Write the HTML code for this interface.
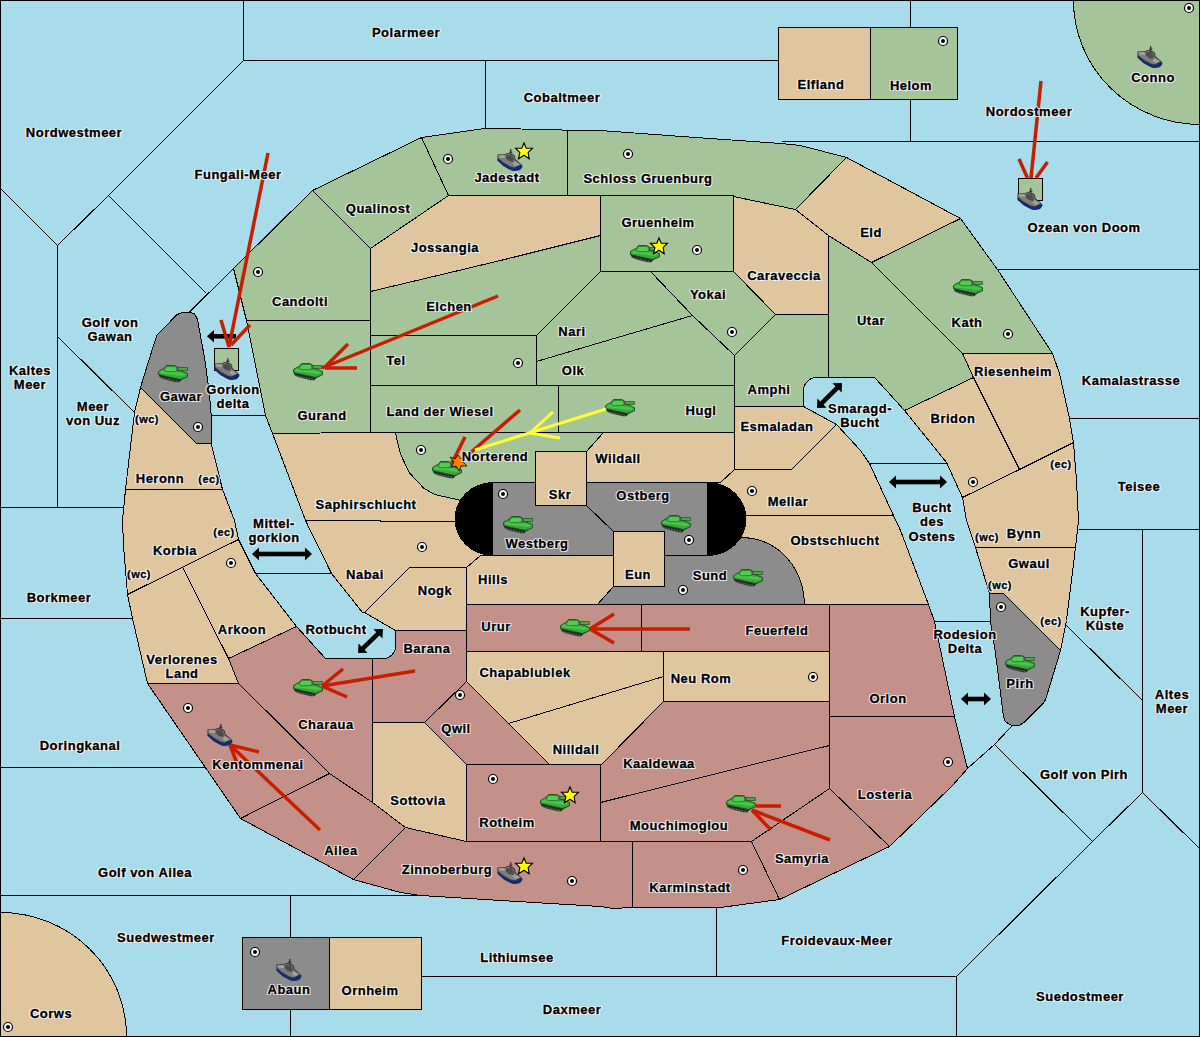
<!DOCTYPE html><html><head><meta charset="utf-8"><style>
html,body{margin:0;padding:0;background:#a8dcea;}
svg{display:block}
text{font-family:"Liberation Sans",sans-serif;font-weight:bold;font-size:13px;letter-spacing:0.5px;text-anchor:middle}
.h text{fill:#fff;stroke:#fff;stroke-width:2.2px;stroke-linejoin:round}
.f text{fill:#000;stroke:#000;stroke-width:0.35px}
text.s{font-size:11px;letter-spacing:0.5px}
</style></head><body>
<svg width="1200" height="1037" viewBox="0 0 1200 1037">
<defs>
<symbol id="ship" viewBox="0 0 25 22" overflow="visible">
<polygon points="0,5.4 7.2,5.2 10.2,4.1 16.3,5.4 17.6,7.6 18,10.2 24.1,15.4 24.8,18 22.4,21.1 16.3,21.9 13.3,21.1 5.9,17.1 0,11.5" fill="#303030"/>
<polygon points="0,10 6,15 13.3,19 17,20 24.8,16 24.8,18 22.4,21.1 16.3,21.9 13.3,21.1 5.9,17.1 0,11.5" fill="#0a2a90"/>
<polygon points="0.8,6.2 7,6 10,5 15.8,6.2 16.8,8.2 17.2,11 23.4,15.6 17,18.6 13,17.6 6,13.6 0.8,9.2" fill="#7c7c7c"/>
<polygon points="1,6.5 6.5,6.3 8,9 2,8.5" fill="#a8a8a8"/>
<polygon points="9,6 15,6.5 16.3,10 15.6,13 11.5,12 8,9" fill="#4c4c4c"/>
<polygon points="17,12 22.5,15.5 18,17 15,15" fill="#a0a0a0"/>
<line x1="13.3" y1="0" x2="13.3" y2="5.5" stroke="#202020" stroke-width="1.1"/>
<line x1="11.5" y1="3.2" x2="15" y2="3.2" stroke="#202020" stroke-width="0.9"/>
</symbol>
<symbol id="tank" viewBox="0 0 29 17" overflow="visible">
<polygon points="0,8.7 1.3,12 5.3,13.7 9.3,14.7 13.3,15.7 17.3,16.7 20.7,16.7 22.7,14.7 26.7,12.3 29,11.3 29,9.5 22,12.5 8,10 0,7.5" fill="#262626"/>
<polygon points="2,12 5,13 9,13.8 13,14.8 17,15.8 20,15.8" fill="none" stroke="#777" stroke-width="0.8" stroke-dasharray="1.2,1.6"/>
<polygon points="0,6 2.7,4.3 6,2.7 7,1 8,0 16,0 18.7,1.2 19,3 19.5,4.5 24.7,6.3 29,8 29,11.3 26.7,12.3 22,14 8,11 0,9" fill="#38a838" stroke="#185018" stroke-width="0.9"/>
<polygon points="1,6.5 6,4 14,6 24,7.5 28,9 24,10.5 12,9 2,8" fill="#4cc44c"/>
<polygon points="6.5,3 8.3,0.8 16,0.8 18.3,2 18.5,5 16.5,6.2 8,6.2 5.5,5" fill="#50cc50" stroke="#1f5f1f" stroke-width="0.7"/>
<rect x="19.5" y="2.2" width="9.3" height="2.6" fill="#44bb44" stroke="#185018" stroke-width="0.8"/>
<rect x="18.3" y="1.8" width="1.6" height="4" fill="#555"/>
</symbol>
<symbol id="star" viewBox="0 0 17 16" overflow="visible">
<polygon points="8.5,0 10.7,5.2 17,5.2 12.6,9.6 13.7,15.7 8.5,12.2 3,15.7 4.4,9.6 0,5.2 6.3,5.2" fill="#ffff00" stroke="#000" stroke-width="1.1" stroke-linejoin="miter"/>
</symbol>
</defs>
<rect x="0" y="0" width="1200" height="1037" fill="#a8dcea"/>
<g transform="translate(0.5,0.5)" shape-rendering="crispEdges">

<path d="M1073,0 A127,124 0 0 0 1200,124 L1200,0 Z" fill="#a5c49a" stroke="#000" stroke-width="1"/>
<path d="M0,912 A126,124 0 0 1 126,1036 L0,1036 Z" fill="#e0c69e" stroke="#000" stroke-width="1"/>
<polygon points="233,268 312,190 370,248 370,320 246,320 241,300" fill="#a5c49a" stroke="#000" stroke-width="1" stroke-linejoin="round"/>
<polygon points="246,320 370,320 370,432 272,433 265,415" fill="#a5c49a" stroke="#000" stroke-width="1" stroke-linejoin="round"/>
<polygon points="312,190 421,137 448,195 370,248" fill="#a5c49a" stroke="#000" stroke-width="1" stroke-linejoin="round"/>
<polygon points="421,137 484,128 556,129 567,130 567,195 448,195" fill="#a5c49a" stroke="#000" stroke-width="1" stroke-linejoin="round"/>
<polygon points="567,130 600,130 695,137 781,143 800,145 846,157 795,209 733,196 567,195" fill="#a5c49a" stroke="#000" stroke-width="1" stroke-linejoin="round"/>
<polygon points="600,195 733,195 733,271 600,271" fill="#a5c49a" stroke="#000" stroke-width="1" stroke-linejoin="round"/>
<polygon points="370,291 500,260 600,235 600,271 536,335 370,335" fill="#a5c49a" stroke="#000" stroke-width="1" stroke-linejoin="round"/>
<polygon points="600,271 650,271 692,315 600,342 536,361 536,335" fill="#a5c49a" stroke="#000" stroke-width="1" stroke-linejoin="round"/>
<polygon points="370,335 536,335 536,385 370,385" fill="#a5c49a" stroke="#000" stroke-width="1" stroke-linejoin="round"/>
<polygon points="536,361 600,342 692,315 734,355 734,385 536,385" fill="#a5c49a" stroke="#000" stroke-width="1" stroke-linejoin="round"/>
<polygon points="650,271 733,271 775,314 734,355 692,315" fill="#a5c49a" stroke="#000" stroke-width="1" stroke-linejoin="round"/>
<polygon points="734,355 775,314 828,314 828,377 816.0,377.0 812.64,377.44 809.5,378.74 806.81,380.81 804.74,383.5 803.44,386.64 803.0,390.0 803,406 734,406" fill="#a5c49a" stroke="#000" stroke-width="1" stroke-linejoin="round"/>
<polygon points="370,385 558,385 558,432 370,432" fill="#a5c49a" stroke="#000" stroke-width="1" stroke-linejoin="round"/>
<polygon points="558,385 734,385 734,432 558,432" fill="#a5c49a" stroke="#000" stroke-width="1" stroke-linejoin="round"/>
<polygon points="395,432 603,432 586,451 535,451 535,482 492,482 492,505 459,499.6 434,494 423.5,488 409,472.5 400,453.7 397.3,443" fill="#a5c49a" stroke="#000" stroke-width="1" stroke-linejoin="round"/>
<polygon points="828,235 871,262 962,353 973,377 904,410 886,390 874,377 828,377" fill="#a5c49a" stroke="#000" stroke-width="1" stroke-linejoin="round"/>
<polygon points="960,218 997,269 1052,353 962,353 871,262" fill="#a5c49a" stroke="#000" stroke-width="1" stroke-linejoin="round"/>
<polygon points="870,27 957,27 957,99 870,99" fill="#a5c49a" stroke="#000" stroke-width="1" stroke-linejoin="round"/>
<polygon points="370,248 448,195 600,195 600,235 500,260 370,291" fill="#e0c69e" stroke="#000" stroke-width="1" stroke-linejoin="round"/>
<polygon points="733,196 795,209 828,235 828,314 775,314 733,271" fill="#e0c69e" stroke="#000" stroke-width="1" stroke-linejoin="round"/>
<polygon points="846,157 960,218 871,262 828,235 795,209" fill="#e0c69e" stroke="#000" stroke-width="1" stroke-linejoin="round"/>
<polygon points="962,353 1052,353 1059,373 1069,418 1073,442 1019,469 973,377" fill="#e0c69e" stroke="#000" stroke-width="1" stroke-linejoin="round"/>
<polygon points="904,410 973,377 1019,469 962,497 946,462" fill="#e0c69e" stroke="#000" stroke-width="1" stroke-linejoin="round"/>
<polygon points="962,497 1019,469 1073,442 1076,480 1078,520 1075,547 975,547 966,520" fill="#e0c69e" stroke="#000" stroke-width="1" stroke-linejoin="round"/>
<polygon points="975,547 1075,547 1066,620 1060,650 1003,593 989,593" fill="#e0c69e" stroke="#000" stroke-width="1" stroke-linejoin="round"/>
<polygon points="603,432 734,432 734,469 720,482 586,482 586,451" fill="#e0c69e" stroke="#000" stroke-width="1" stroke-linejoin="round"/>
<polygon points="535,451 586,451 586,505 535,505" fill="#e0c69e" stroke="#000" stroke-width="1" stroke-linejoin="round"/>
<polygon points="734,406 803,406 836,424 791,469 734,469" fill="#e0c69e" stroke="#000" stroke-width="1" stroke-linejoin="round"/>
<polygon points="734,469 791,469 836,424 860,450 869,463 893,515 745,515 707,515 707,482 720,482" fill="#e0c69e" stroke="#000" stroke-width="1" stroke-linejoin="round"/>
<polygon points="707,515 893,515 900,530 928,604 804.0,604.0 803.24,593.52 800.97,583.3 797.24,573.58 792.16,564.62 785.84,556.62 778.44,549.8 770.15,544.3 761.16,540.28 751.7,537.82 742.0,537.0 707,530" fill="#e0c69e" stroke="#000" stroke-width="1" stroke-linejoin="round"/>
<polygon points="272,433 370,432 395,432 397.3,443 400,453.7 409,472.5 423.5,488 434,494 459,499.6 492,505 492,521 455,521 305,520" fill="#e0c69e" stroke="#000" stroke-width="1" stroke-linejoin="round"/>
<polygon points="305,520 455,521 492,521 492,555 480,555 466,567 409,567 364,612 362,612 331,573" fill="#e0c69e" stroke="#000" stroke-width="1" stroke-linejoin="round"/>
<polygon points="409,567 466,567 466,630 395,630 364,612" fill="#e0c69e" stroke="#000" stroke-width="1" stroke-linejoin="round"/>
<polygon points="466,567 480,555 613,555 613,586 597,604 466,604" fill="#e0c69e" stroke="#000" stroke-width="1" stroke-linejoin="round"/>
<polygon points="613,531 664,531 664,586 613,586" fill="#e0c69e" stroke="#000" stroke-width="1" stroke-linejoin="round"/>
<polygon points="466,651 663,651 663,676 508,723 466,681" fill="#e0c69e" stroke="#000" stroke-width="1" stroke-linejoin="round"/>
<polygon points="508,723 663,676 663,701 600,765 549,764" fill="#e0c69e" stroke="#000" stroke-width="1" stroke-linejoin="round"/>
<polygon points="663,651 829,651 829,701 663,701" fill="#e0c69e" stroke="#000" stroke-width="1" stroke-linejoin="round"/>
<polygon points="372,722 424,722 466,764 466,841 405,827 372,802" fill="#e0c69e" stroke="#000" stroke-width="1" stroke-linejoin="round"/>
<polygon points="778,27 870,27 870,99 778,99" fill="#e0c69e" stroke="#000" stroke-width="1" stroke-linejoin="round"/>
<polygon points="329,937 421,937 421,1009 329,1009" fill="#e0c69e" stroke="#000" stroke-width="1" stroke-linejoin="round"/>
<polygon points="125,489 134,412 140,387 196,443 210.7,443 222,489" fill="#e0c69e" stroke="#000" stroke-width="1" stroke-linejoin="round"/>
<polygon points="122,520 125,489 222,489 234,520 238,539 127,594 123,545" fill="#e0c69e" stroke="#000" stroke-width="1" stroke-linejoin="round"/>
<polygon points="127,594 182,566.7 228,658 238,683 147,683 132,618" fill="#e0c69e" stroke="#000" stroke-width="1" stroke-linejoin="round"/>
<polygon points="182,566.7 238,539 255,573 296,626 228,658" fill="#e0c69e" stroke="#000" stroke-width="1" stroke-linejoin="round"/>
<polygon points="466,604 641,604 641,651 466,651" fill="#c4908a" stroke="#000" stroke-width="1" stroke-linejoin="round"/>
<polygon points="641,604 829,604 829,651 641,651" fill="#c4908a" stroke="#000" stroke-width="1" stroke-linejoin="round"/>
<polygon points="829,604 928,604 934,621 954,716 829,716" fill="#c4908a" stroke="#000" stroke-width="1" stroke-linejoin="round"/>
<polygon points="829,716 954,716 967,768 952,785 889,846 829,788" fill="#c4908a" stroke="#000" stroke-width="1" stroke-linejoin="round"/>
<polygon points="372,658 383.0,658.0 386.11,657.59 389.0,656.39 391.49,654.49 393.39,652.0 394.59,649.11 395.0,646.0 395,630 466,630 466,681 424,722 372,722" fill="#c4908a" stroke="#000" stroke-width="1" stroke-linejoin="round"/>
<polygon points="466,681 549,764 466,764 424,722" fill="#c4908a" stroke="#000" stroke-width="1" stroke-linejoin="round"/>
<polygon points="663,701 829,701 829,745 600,802 600,765" fill="#c4908a" stroke="#000" stroke-width="1" stroke-linejoin="round"/>
<polygon points="600,802 829,745 829,788 751,841 600,841" fill="#c4908a" stroke="#000" stroke-width="1" stroke-linejoin="round"/>
<polygon points="466,764 600,764 600,841 466,841" fill="#c4908a" stroke="#000" stroke-width="1" stroke-linejoin="round"/>
<polygon points="632,841 751,841 779,899 720,907 632,907" fill="#c4908a" stroke="#000" stroke-width="1" stroke-linejoin="round"/>
<polygon points="405,827 466,841 632,841 632,907 612,908 600,906 500,900 420,895 400,892 353,879" fill="#c4908a" stroke="#000" stroke-width="1" stroke-linejoin="round"/>
<polygon points="751,841 829,788 889,846 779,899" fill="#c4908a" stroke="#000" stroke-width="1" stroke-linejoin="round"/>
<polygon points="240,818 329,773 372,802 405,827 353,879" fill="#c4908a" stroke="#000" stroke-width="1" stroke-linejoin="round"/>
<polygon points="228,658 296,626 325,658 372,658 372,802 329,773 238,683" fill="#c4908a" stroke="#000" stroke-width="1" stroke-linejoin="round"/>
<polygon points="147,683 238,683 329,773 240,818" fill="#c4908a" stroke="#000" stroke-width="1" stroke-linejoin="round"/>
<polygon points="613,586 664,586 664,555 707,555 707,530 742.0,537.0 751.7,537.82 761.16,540.28 770.15,544.3 778.44,549.8 785.84,556.62 792.16,564.62 797.24,573.58 800.97,583.3 803.24,593.52 804.0,604.0 597,604" fill="#8c8c8c" stroke="#000" stroke-width="1" stroke-linejoin="round"/>
<ellipse cx="493" cy="518.5" rx="39" ry="37" fill="#000"/>
<ellipse cx="707" cy="518.5" rx="39" ry="37" fill="#000"/>
<polygon points="182,311.7 189,311.7 193.7,313.3 196.3,317.3 197.7,322 199,330 204,357 208,386 210,405 210.7,415 210.7,443 196,443 140,387 148.3,360 156.3,334.7 176.3,314.3" fill="#8c8c8c" stroke="#000" stroke-width="1" stroke-linejoin="round"/>
<polygon points="989,593 1003,593 1060,650 1050.3,682 1045,699.3 1043,702.7 1023.7,722 1017.7,725.3 1011.7,725.3 1005,721.3 1003,716.7 1001,700 995,653 990,621" fill="#8c8c8c" stroke="#000" stroke-width="1" stroke-linejoin="round"/>
<polygon points="492,482 535,482 535,505 586,505 613,531 613,555 492,555" fill="#8c8c8c" stroke="#000" stroke-width="1" stroke-linejoin="round"/>
<polygon points="586,482 707,482 707,555 664,555 664,531 613,531 586,505" fill="#8c8c8c" stroke="#000" stroke-width="1" stroke-linejoin="round"/>
<polygon points="242,937 329,937 329,1009 242,1009" fill="#8c8c8c" stroke="#000" stroke-width="1" stroke-linejoin="round"/>
<polyline points="243,0 243,60 778,60" fill="none" stroke="#000" stroke-width="1"/>
<polyline points="485,60 485,128" fill="none" stroke="#000" stroke-width="1"/>
<polyline points="243,60 108,195 57,245 0,188" fill="none" stroke="#000" stroke-width="1"/>
<polyline points="57,245 57,507" fill="none" stroke="#000" stroke-width="1"/>
<polyline points="108,195 206,293" fill="none" stroke="#000" stroke-width="1"/>
<polyline points="233,268 189,311.5" fill="none" stroke="#000" stroke-width="1"/>
<polyline points="57,336 134,412" fill="none" stroke="#000" stroke-width="1"/>
<polyline points="0,507 122,507" fill="none" stroke="#000" stroke-width="1"/>
<polyline points="0,618 131,618" fill="none" stroke="#000" stroke-width="1"/>
<polyline points="0,767 204,767" fill="none" stroke="#000" stroke-width="1"/>
<polyline points="0,895 420,895" fill="none" stroke="#000" stroke-width="1"/>
<polyline points="290,895 290,937" fill="none" stroke="#000" stroke-width="1"/>
<polyline points="290,1009 290,1036" fill="none" stroke="#000" stroke-width="1"/>
<polyline points="210.7,415 265,415" fill="none" stroke="#000" stroke-width="1"/>
<polyline points="255,573 331,573" fill="none" stroke="#000" stroke-width="1"/>
<polyline points="421,976 956,976" fill="none" stroke="#000" stroke-width="1"/>
<polyline points="716,907 716,976" fill="none" stroke="#000" stroke-width="1"/>
<polyline points="956,976 956,1036" fill="none" stroke="#000" stroke-width="1"/>
<polyline points="956,976 1092,841 994,744" fill="none" stroke="#000" stroke-width="1"/>
<polyline points="1092,841 1142,792 1199,848" fill="none" stroke="#000" stroke-width="1"/>
<polyline points="1142,529 1142,792" fill="none" stroke="#000" stroke-width="1"/>
<polyline points="1066,625 1142,700" fill="none" stroke="#000" stroke-width="1"/>
<polyline points="1078,529 1200,529" fill="none" stroke="#000" stroke-width="1"/>
<polyline points="1069,418 1200,418" fill="none" stroke="#000" stroke-width="1"/>
<polyline points="997,269 1200,269" fill="none" stroke="#000" stroke-width="1"/>
<polyline points="781,141 1200,141" fill="none" stroke="#000" stroke-width="1"/>
<polyline points="910,0 910,27" fill="none" stroke="#000" stroke-width="1"/>
<polyline points="910,99 910,141" fill="none" stroke="#000" stroke-width="1"/>
<polyline points="934,621 990,621" fill="none" stroke="#000" stroke-width="1"/>
<polyline points="869,463 946,463" fill="none" stroke="#000" stroke-width="1"/>
<polyline points="1011.5,725.3 994,744 967,768" fill="none" stroke="#000" stroke-width="1"/>
</g>
<rect x="1018.5" y="178.5" width="24" height="22" fill="#a5c49a" stroke="#000"/>
<rect x="214.5" y="348.5" width="24" height="22" fill="#a5c49a" stroke="#000"/>
<rect x="0.5" y="0.5" width="1199" height="1036" fill="none" stroke="#000" stroke-width="1"/>
<circle cx="448" cy="159" r="4.5" fill="#fff" stroke="#000" stroke-width="1.2"/><circle cx="448" cy="159" r="2" fill="#000"/>
<circle cx="628" cy="154" r="4.5" fill="#fff" stroke="#000" stroke-width="1.2"/><circle cx="628" cy="154" r="2" fill="#000"/>
<circle cx="697" cy="250" r="4.5" fill="#fff" stroke="#000" stroke-width="1.2"/><circle cx="697" cy="250" r="2" fill="#000"/>
<circle cx="943" cy="41" r="4.5" fill="#fff" stroke="#000" stroke-width="1.2"/><circle cx="943" cy="41" r="2" fill="#000"/>
<circle cx="1189" cy="8" r="4.5" fill="#fff" stroke="#000" stroke-width="1.2"/><circle cx="1189" cy="8" r="2" fill="#000"/>
<circle cx="258" cy="272" r="4.5" fill="#fff" stroke="#000" stroke-width="1.2"/><circle cx="258" cy="272" r="2" fill="#000"/>
<circle cx="198" cy="427" r="4.5" fill="#fff" stroke="#000" stroke-width="1.2"/><circle cx="198" cy="427" r="2" fill="#000"/>
<circle cx="518" cy="363" r="4.5" fill="#fff" stroke="#000" stroke-width="1.2"/><circle cx="518" cy="363" r="2" fill="#000"/>
<circle cx="421" cy="450" r="4.5" fill="#fff" stroke="#000" stroke-width="1.2"/><circle cx="421" cy="450" r="2" fill="#000"/>
<circle cx="503" cy="494" r="4.5" fill="#fff" stroke="#000" stroke-width="1.2"/><circle cx="503" cy="494" r="2" fill="#000"/>
<circle cx="732" cy="332" r="4.5" fill="#fff" stroke="#000" stroke-width="1.2"/><circle cx="732" cy="332" r="2" fill="#000"/>
<circle cx="752" cy="491" r="4.5" fill="#fff" stroke="#000" stroke-width="1.2"/><circle cx="752" cy="491" r="2" fill="#000"/>
<circle cx="1008" cy="334" r="4.5" fill="#fff" stroke="#000" stroke-width="1.2"/><circle cx="1008" cy="334" r="2" fill="#000"/>
<circle cx="973" cy="482" r="4.5" fill="#fff" stroke="#000" stroke-width="1.2"/><circle cx="973" cy="482" r="2" fill="#000"/>
<circle cx="231" cy="563" r="4.5" fill="#fff" stroke="#000" stroke-width="1.2"/><circle cx="231" cy="563" r="2" fill="#000"/>
<circle cx="188" cy="708" r="4.5" fill="#fff" stroke="#000" stroke-width="1.2"/><circle cx="188" cy="708" r="2" fill="#000"/>
<circle cx="422" cy="547" r="4.5" fill="#fff" stroke="#000" stroke-width="1.2"/><circle cx="422" cy="547" r="2" fill="#000"/>
<circle cx="460" cy="695" r="4.5" fill="#fff" stroke="#000" stroke-width="1.2"/><circle cx="460" cy="695" r="2" fill="#000"/>
<circle cx="689" cy="540" r="4.5" fill="#fff" stroke="#000" stroke-width="1.2"/><circle cx="689" cy="540" r="2" fill="#000"/>
<circle cx="683" cy="590" r="4.5" fill="#fff" stroke="#000" stroke-width="1.2"/><circle cx="683" cy="590" r="2" fill="#000"/>
<circle cx="813" cy="677" r="4.5" fill="#fff" stroke="#000" stroke-width="1.2"/><circle cx="813" cy="677" r="2" fill="#000"/>
<circle cx="1001" cy="607" r="4.5" fill="#fff" stroke="#000" stroke-width="1.2"/><circle cx="1001" cy="607" r="2" fill="#000"/>
<circle cx="948" cy="762" r="4.5" fill="#fff" stroke="#000" stroke-width="1.2"/><circle cx="948" cy="762" r="2" fill="#000"/>
<circle cx="493" cy="779" r="4.5" fill="#fff" stroke="#000" stroke-width="1.2"/><circle cx="493" cy="779" r="2" fill="#000"/>
<circle cx="572" cy="881" r="4.5" fill="#fff" stroke="#000" stroke-width="1.2"/><circle cx="572" cy="881" r="2" fill="#000"/>
<circle cx="743" cy="870" r="4.5" fill="#fff" stroke="#000" stroke-width="1.2"/><circle cx="743" cy="870" r="2" fill="#000"/>
<circle cx="8" cy="1027" r="4.5" fill="#fff" stroke="#000" stroke-width="1.2"/><circle cx="8" cy="1027" r="2" fill="#000"/>
<circle cx="255" cy="952" r="4.5" fill="#fff" stroke="#000" stroke-width="1.2"/><circle cx="255" cy="952" r="2" fill="#000"/>
<use href="#ship" x="497.5" y="149" width="25" height="22"/>
<use href="#ship" x="1137.5" y="46" width="25" height="22"/>
<use href="#ship" x="1017.5" y="188" width="25" height="22"/>
<use href="#ship" x="214.5" y="358" width="25" height="22"/>
<use href="#ship" x="207.5" y="724" width="25" height="22"/>
<use href="#ship" x="497.5" y="862" width="25" height="22"/>
<use href="#ship" x="276.5" y="959" width="25" height="22"/>
<use href="#tank" x="158.5" y="365.5" width="29" height="17"/>
<use href="#tank" x="293.5" y="363.5" width="29" height="17"/>
<use href="#tank" x="630.5" y="245.5" width="29" height="17"/>
<use href="#tank" x="432.5" y="461.5" width="29" height="17"/>
<use href="#tank" x="605.5" y="399.5" width="29" height="17"/>
<use href="#tank" x="953.5" y="279.5" width="29" height="17"/>
<use href="#tank" x="503.5" y="516.5" width="29" height="17"/>
<use href="#tank" x="661.5" y="515.5" width="29" height="17"/>
<use href="#tank" x="733.5" y="569.5" width="29" height="17"/>
<use href="#tank" x="560.5" y="619.5" width="29" height="17"/>
<use href="#tank" x="293.5" y="679.5" width="29" height="17"/>
<use href="#tank" x="540.5" y="794.5" width="29" height="17"/>
<use href="#tank" x="726.5" y="795.5" width="29" height="17"/>
<use href="#tank" x="1005.5" y="655.5" width="29" height="17"/>
<use href="#star" x="515.5" y="143" width="17" height="16"/>
<use href="#star" x="650.5" y="238" width="17" height="16"/>
<use href="#star" x="561.5" y="787" width="17" height="16"/>
<use href="#star" x="515.5" y="858" width="17" height="16"/>
<g transform="translate(889,482) rotate(0.0)"><rect x="5" y="-2.3" width="48.0" height="4.6" fill="#000"/><polygon points="0,0 7,-6.5 7,6.5" fill="#000"/><polygon points="58.0,0 51.0,-6.5 51.0,6.5" fill="#000"/></g>
<g transform="translate(961,699) rotate(0.0)"><rect x="5" y="-2.3" width="20.0" height="4.6" fill="#000"/><polygon points="0,0 7,-6.5 7,6.5" fill="#000"/><polygon points="30.0,0 23.0,-6.5 23.0,6.5" fill="#000"/></g>
<g transform="translate(252,554) rotate(0.0)"><rect x="5" y="-2.3" width="50.0" height="4.6" fill="#000"/><polygon points="0,0 7,-6.5 7,6.5" fill="#000"/><polygon points="60.0,0 53.0,-6.5 53.0,6.5" fill="#000"/></g>
<g transform="translate(358,653) rotate(-43.830860672092584)"><rect x="5" y="-2.3" width="24.655446902326915" height="4.6" fill="#000"/><polygon points="0,0 7,-6.5 7,6.5" fill="#000"/><polygon points="34.655446902326915,0 27.655446902326915,-6.5 27.655446902326915,6.5" fill="#000"/></g>
<g transform="translate(817,408) rotate(-45.0)"><rect x="5" y="-2.3" width="25.355339059327378" height="4.6" fill="#000"/><polygon points="0,0 7,-6.5 7,6.5" fill="#000"/><polygon points="35.35533905932738,0 28.355339059327378,-6.5 28.355339059327378,6.5" fill="#000"/></g>
<g><rect x="214" y="334" width="22" height="4.6" fill="#000"/><polygon points="207,336.3 214,330 214,342.6" fill="#000"/></g>
<line x1="268" y1="153" x2="229" y2="347" stroke="#c81e00" stroke-width="3.5"/>
<line x1="221" y1="320" x2="229" y2="347" stroke="#c81e00" stroke-width="3.5"/>
<line x1="250" y1="325" x2="231" y2="345" stroke="#c81e00" stroke-width="3.5"/>
<line x1="1041" y1="81" x2="1031" y2="178" stroke="#c81e00" stroke-width="3.5"/>
<line x1="1019" y1="159" x2="1027.5" y2="178" stroke="#c81e00" stroke-width="3.5"/>
<line x1="1047.5" y1="162" x2="1036" y2="178" stroke="#c81e00" stroke-width="3.5"/>
<line x1="498" y1="296" x2="322" y2="368" stroke="#c81e00" stroke-width="3.5"/>
<line x1="348" y1="344" x2="325" y2="367" stroke="#c81e00" stroke-width="3.5"/>
<line x1="357" y1="368" x2="325" y2="368" stroke="#c81e00" stroke-width="3.5"/>
<line x1="520" y1="410" x2="462" y2="460" stroke="#c81e00" stroke-width="3.5"/>
<line x1="465" y1="437" x2="452" y2="463" stroke="#c81e00" stroke-width="3.5"/>
<line x1="690" y1="629" x2="590" y2="629" stroke="#c81e00" stroke-width="3.5"/>
<line x1="614" y1="614" x2="590" y2="629" stroke="#c81e00" stroke-width="3.5"/>
<line x1="614" y1="643" x2="590" y2="629" stroke="#c81e00" stroke-width="3.5"/>
<line x1="415" y1="671" x2="322" y2="686" stroke="#c81e00" stroke-width="3.5"/>
<line x1="343" y1="669" x2="322" y2="686" stroke="#c81e00" stroke-width="3.5"/>
<line x1="347" y1="697" x2="322" y2="686" stroke="#c81e00" stroke-width="3.5"/>
<line x1="320" y1="830" x2="230" y2="745" stroke="#c81e00" stroke-width="3.5"/>
<line x1="259" y1="752" x2="230" y2="745" stroke="#c81e00" stroke-width="3.5"/>
<line x1="240" y1="771" x2="230" y2="745" stroke="#c81e00" stroke-width="3.5"/>
<line x1="830" y1="840" x2="752" y2="810" stroke="#c81e00" stroke-width="3.5"/>
<line x1="781" y1="806" x2="756" y2="806" stroke="#c81e00" stroke-width="3.5"/>
<line x1="771" y1="830" x2="752" y2="810" stroke="#c81e00" stroke-width="3.5"/>
<line x1="606" y1="409" x2="475" y2="450" stroke="#ffff33" stroke-width="3"/>
<line x1="553" y1="412" x2="530" y2="433" stroke="#ffff33" stroke-width="3"/>
<line x1="560" y1="438" x2="530" y2="433" stroke="#ffff33" stroke-width="3"/>
<polygon points="458,455 461,459 466,458 463,462 467,466 461,466 459,471 456,466 451,467 454,462 450,457 455,459" fill="#ff8000" stroke="#000" stroke-width="0.8"/>
<g class="h"><text x="406" y="37">Polarmeer</text>
<text x="562" y="102">Cobaltmeer</text>
<text x="74" y="137">Nordwestmeer</text>
<text x="238" y="179">Fungali-Meer</text>
<text x="821" y="89">Elfland</text>
<text x="911" y="90">Helom</text>
<text x="1153" y="82">Conno</text>
<text x="1029" y="116">Nordostmeer</text>
<text x="507" y="182">Jadestadt</text>
<text x="648" y="183">Schloss Gruenburg</text>
<text x="378" y="213">Qualinost</text>
<text x="658" y="227">Gruenheim</text>
<text x="445" y="252">Jossangia</text>
<text x="871" y="237">Eld</text>
<text x="1084" y="232">Ozean von Doom</text>
<text x="300" y="306">Candolti</text>
<text x="784" y="280">Caraveccia</text>
<text x="708" y="299">Yokai</text>
<text x="967" y="327">Kath</text>
<text x="449" y="311">Elchen</text>
<text x="871" y="325">Utar</text>
<text x="572" y="336">Nari</text>
<text x="110" y="327">Golf von</text>
<text x="110" y="341">Gawan</text>
<text x="396" y="365">Tel</text>
<text x="573" y="375">Olk</text>
<text x="30" y="375">Kaltes</text>
<text x="30" y="389">Meer</text>
<text x="1013" y="376">Riesenheim</text>
<text x="1131" y="385">Kamalastrasse</text>
<text x="769" y="394">Amphi</text>
<text x="181" y="401">Gawar</text>
<text x="233" y="394">Gorkion</text>
<text x="233" y="408">delta</text>
<text x="322" y="420">Gurand</text>
<text x="440" y="416">Land der Wiesel</text>
<text x="701" y="415">Hugl</text>
<text x="93" y="411">Meer</text>
<text x="93" y="425">von Uuz</text>
<text x="860" y="413">Smaragd-</text>
<text x="860" y="427">Bucht</text>
<text x="953" y="423">Bridon</text>
<text x="777" y="431">Esmaladan</text>
<text x="495" y="461">Norterend</text>
<text x="618" y="463">Wildall</text>
<text x="160" y="483">Heronn</text>
<text x="1139" y="491">Teisee</text>
<text x="560" y="499">Skr</text>
<text x="643" y="500">Ostberg</text>
<text x="788" y="506">Mellar</text>
<text x="366" y="509">Saphirschlucht</text>
<text x="932" y="512">Bucht</text>
<text x="932" y="526">des</text>
<text x="932" y="541">Ostens</text>
<text x="274" y="528">Mittel-</text>
<text x="274" y="542">gorkion</text>
<text x="1024" y="538">Bynn</text>
<text x="835" y="545">Obstschlucht</text>
<text x="537" y="548">Westberg</text>
<text x="175" y="555">Korbia</text>
<text x="1029" y="568">Gwaul</text>
<text x="365" y="579">Nabai</text>
<text x="710" y="580">Sund</text>
<text x="638" y="579">Eun</text>
<text x="493" y="584">Hills</text>
<text x="435" y="595">Nogk</text>
<text x="59" y="602">Borkmeer</text>
<text x="1105" y="616">Kupfer-</text>
<text x="1105" y="630">Küste</text>
<text x="496" y="631">Urur</text>
<text x="336" y="634">Rotbucht</text>
<text x="242" y="634">Arkoon</text>
<text x="777" y="635">Feuerfeld</text>
<text x="965" y="639">Rodesion</text>
<text x="965" y="653">Delta</text>
<text x="427" y="653">Barana</text>
<text x="182" y="664">Verlorenes</text>
<text x="182" y="678">Land</text>
<text x="525" y="677">Chapablublek</text>
<text x="701" y="683">Neu Rom</text>
<text x="1020" y="688">Pirh</text>
<text x="1172" y="699">Altes</text>
<text x="1172" y="713">Meer</text>
<text x="888" y="703">Orlon</text>
<text x="326" y="729">Charaua</text>
<text x="456" y="733">Qwil</text>
<text x="80" y="750">Doringkanal</text>
<text x="576" y="754">Nilldall</text>
<text x="659" y="768">Kaaldewaa</text>
<text x="258" y="769">Kentommenai</text>
<text x="1084" y="779">Golf von Pirh</text>
<text x="885" y="799">Losteria</text>
<text x="418" y="805">Sottovia</text>
<text x="507" y="827">Rotheim</text>
<text x="679" y="830">Mouchimoglou</text>
<text x="341" y="855">Ailea</text>
<text x="802" y="863">Samyria</text>
<text x="447" y="874">Zinnoberburg</text>
<text x="145" y="877">Golf von Ailea</text>
<text x="690" y="892">Karminstadt</text>
<text x="166" y="942">Suedwestmeer</text>
<text x="837" y="945">Froidevaux-Meer</text>
<text x="517" y="962">Lithiumsee</text>
<text x="289" y="994">Abaun</text>
<text x="370" y="995">Ornheim</text>
<text x="1080" y="1001">Suedostmeer</text>
<text x="572" y="1014">Daxmeer</text>
<text x="51" y="1018">Corws</text>
<text class="s" x="147" y="423">(wc)</text>
<text class="s" x="209" y="483">(ec)</text>
<text class="s" x="1061" y="468">(ec)</text>
<text class="s" x="224" y="536">(ec)</text>
<text class="s" x="987" y="541">(wc)</text>
<text class="s" x="139" y="578">(wc)</text>
<text class="s" x="1000" y="589">(wc)</text>
<text class="s" x="1051" y="625">(ec)</text></g>
<g class="f"><text x="406" y="37">Polarmeer</text>
<text x="562" y="102">Cobaltmeer</text>
<text x="74" y="137">Nordwestmeer</text>
<text x="238" y="179">Fungali-Meer</text>
<text x="821" y="89">Elfland</text>
<text x="911" y="90">Helom</text>
<text x="1153" y="82">Conno</text>
<text x="1029" y="116">Nordostmeer</text>
<text x="507" y="182">Jadestadt</text>
<text x="648" y="183">Schloss Gruenburg</text>
<text x="378" y="213">Qualinost</text>
<text x="658" y="227">Gruenheim</text>
<text x="445" y="252">Jossangia</text>
<text x="871" y="237">Eld</text>
<text x="1084" y="232">Ozean von Doom</text>
<text x="300" y="306">Candolti</text>
<text x="784" y="280">Caraveccia</text>
<text x="708" y="299">Yokai</text>
<text x="967" y="327">Kath</text>
<text x="449" y="311">Elchen</text>
<text x="871" y="325">Utar</text>
<text x="572" y="336">Nari</text>
<text x="110" y="327">Golf von</text>
<text x="110" y="341">Gawan</text>
<text x="396" y="365">Tel</text>
<text x="573" y="375">Olk</text>
<text x="30" y="375">Kaltes</text>
<text x="30" y="389">Meer</text>
<text x="1013" y="376">Riesenheim</text>
<text x="1131" y="385">Kamalastrasse</text>
<text x="769" y="394">Amphi</text>
<text x="181" y="401">Gawar</text>
<text x="233" y="394">Gorkion</text>
<text x="233" y="408">delta</text>
<text x="322" y="420">Gurand</text>
<text x="440" y="416">Land der Wiesel</text>
<text x="701" y="415">Hugl</text>
<text x="93" y="411">Meer</text>
<text x="93" y="425">von Uuz</text>
<text x="860" y="413">Smaragd-</text>
<text x="860" y="427">Bucht</text>
<text x="953" y="423">Bridon</text>
<text x="777" y="431">Esmaladan</text>
<text x="495" y="461">Norterend</text>
<text x="618" y="463">Wildall</text>
<text x="160" y="483">Heronn</text>
<text x="1139" y="491">Teisee</text>
<text x="560" y="499">Skr</text>
<text x="643" y="500">Ostberg</text>
<text x="788" y="506">Mellar</text>
<text x="366" y="509">Saphirschlucht</text>
<text x="932" y="512">Bucht</text>
<text x="932" y="526">des</text>
<text x="932" y="541">Ostens</text>
<text x="274" y="528">Mittel-</text>
<text x="274" y="542">gorkion</text>
<text x="1024" y="538">Bynn</text>
<text x="835" y="545">Obstschlucht</text>
<text x="537" y="548">Westberg</text>
<text x="175" y="555">Korbia</text>
<text x="1029" y="568">Gwaul</text>
<text x="365" y="579">Nabai</text>
<text x="710" y="580">Sund</text>
<text x="638" y="579">Eun</text>
<text x="493" y="584">Hills</text>
<text x="435" y="595">Nogk</text>
<text x="59" y="602">Borkmeer</text>
<text x="1105" y="616">Kupfer-</text>
<text x="1105" y="630">Küste</text>
<text x="496" y="631">Urur</text>
<text x="336" y="634">Rotbucht</text>
<text x="242" y="634">Arkoon</text>
<text x="777" y="635">Feuerfeld</text>
<text x="965" y="639">Rodesion</text>
<text x="965" y="653">Delta</text>
<text x="427" y="653">Barana</text>
<text x="182" y="664">Verlorenes</text>
<text x="182" y="678">Land</text>
<text x="525" y="677">Chapablublek</text>
<text x="701" y="683">Neu Rom</text>
<text x="1020" y="688">Pirh</text>
<text x="1172" y="699">Altes</text>
<text x="1172" y="713">Meer</text>
<text x="888" y="703">Orlon</text>
<text x="326" y="729">Charaua</text>
<text x="456" y="733">Qwil</text>
<text x="80" y="750">Doringkanal</text>
<text x="576" y="754">Nilldall</text>
<text x="659" y="768">Kaaldewaa</text>
<text x="258" y="769">Kentommenai</text>
<text x="1084" y="779">Golf von Pirh</text>
<text x="885" y="799">Losteria</text>
<text x="418" y="805">Sottovia</text>
<text x="507" y="827">Rotheim</text>
<text x="679" y="830">Mouchimoglou</text>
<text x="341" y="855">Ailea</text>
<text x="802" y="863">Samyria</text>
<text x="447" y="874">Zinnoberburg</text>
<text x="145" y="877">Golf von Ailea</text>
<text x="690" y="892">Karminstadt</text>
<text x="166" y="942">Suedwestmeer</text>
<text x="837" y="945">Froidevaux-Meer</text>
<text x="517" y="962">Lithiumsee</text>
<text x="289" y="994">Abaun</text>
<text x="370" y="995">Ornheim</text>
<text x="1080" y="1001">Suedostmeer</text>
<text x="572" y="1014">Daxmeer</text>
<text x="51" y="1018">Corws</text>
<text class="s" x="147" y="423">(wc)</text>
<text class="s" x="209" y="483">(ec)</text>
<text class="s" x="1061" y="468">(ec)</text>
<text class="s" x="224" y="536">(ec)</text>
<text class="s" x="987" y="541">(wc)</text>
<text class="s" x="139" y="578">(wc)</text>
<text class="s" x="1000" y="589">(wc)</text>
<text class="s" x="1051" y="625">(ec)</text></g>
</svg></body></html>
